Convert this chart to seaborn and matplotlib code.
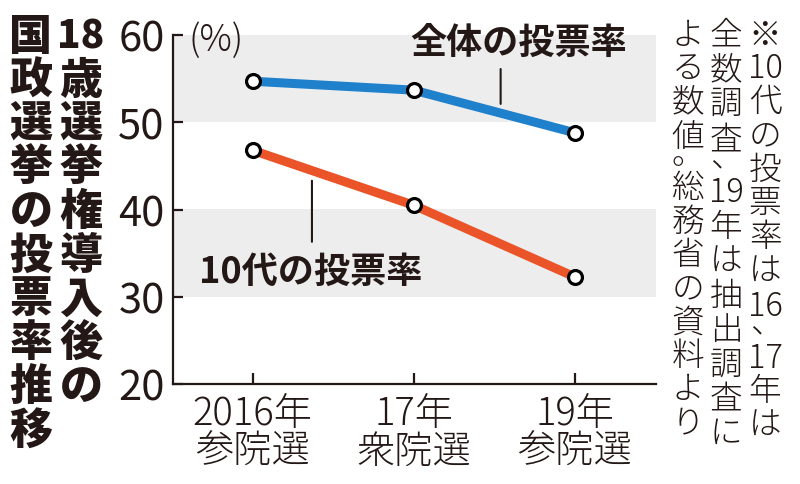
import re
import matplotlib
matplotlib.use("Agg")
import matplotlib.pyplot as plt
import seaborn as sns
import pandas as pd

# ---- data ----
elections = ["2016年\n参院選", "17年\n衆院選", "19年\n参院選"]
overall_rate = [54.70, 53.68, 48.80]
teen_rate = [46.78, 40.49, 32.28]
series_names = ["全体の投票率", "10代の投票率"]
y_ticks = [20, 30, 40, 50, 60]
band_ranges = [(50, 60), (30, 40)]
unit_label = "(%)"
title_cols = ["18歳選挙権導入後の", "国政選挙の投票率推移"]
note_cols = ["※10代の投票率は16、17年は", "全数調査、19年は抽出調査に", "よる数値。総務省の資料より"]

# ---- style ----
sns.set_theme(style="white")
plt.rcParams["font.family"] = ["Noto Sans CJK JP", "DejaVu Sans"]
INK = "#231815"
BLUE = "#1f80cc"
ORANGE = "#ea5428"
BAND = "#ededed"

W, H = 800, 485
fig = plt.figure(figsize=(W / 100, H / 100), dpi=100)
fig.patch.set_facecolor("white")


def fx(x):
    return x / W


def fy(y):
    return 1 - y / H


ax = fig.add_axes([fx(173), fy(385), (656 - 173) / W, (385 - 36) / H])
ax.set_facecolor("white")

df = pd.DataFrame({
    "x": list(range(len(elections))) * 2,
    "rate": overall_rate + teen_rate,
    "series": [series_names[0]] * len(elections) + [series_names[1]] * len(elections),
})

for lo, hi in band_ranges:
    ax.axhspan(lo, hi, color=BAND, lw=0, zorder=0)

sns.lineplot(data=df, x="x", y="rate", hue="series",
             palette={series_names[0]: BLUE, series_names[1]: ORANGE},
             linewidth=6.5, marker="o", markersize=10,
             markerfacecolor="white", markeredgecolor="black",
             markeredgewidth=2.3, legend=False, ax=ax, zorder=3)
for ln in ax.lines:
    ln.set_markerfacecolor("white")
    ln.set_markeredgecolor("black")
    ln.set_solid_capstyle("butt")

ax.set_xlim(-0.495, 2.505)
ax.set_ylim(y_ticks[0], y_ticks[-1])
ax.set_xlabel("")
ax.set_ylabel("")
ax.set_yticks(y_ticks)
ax.set_xticks(range(len(elections)), labels=elections)

for s in ["top", "right"]:
    ax.spines[s].set_visible(False)
for s in ["left", "bottom"]:
    ax.spines[s].set_visible(True)
    ax.spines[s].set_color(INK)
    ax.spines[s].set_linewidth(1.6)

ax.tick_params(axis="y", direction="in", length=7.5, width=1.6, color=INK,
               pad=6, labelsize=30, labelcolor=INK, left=True)
ax.tick_params(axis="x", direction="in", length=8, width=1.6, color=INK,
               pad=7, labelsize=27.5, labelcolor=INK, bottom=True)
for lbl in ax.get_yticklabels():
    lbl.set_fontweight("normal")
for lbl in ax.get_xticklabels():
    lbl.set_fontweight("light")
    lbl.set_linespacing(0.95)

# unit label
fig.text(fx(188), fy(41), unit_label, fontsize=26, color=INK, fontweight="light",
         ha="left", va="center")

# series labels and leaders
ax.text(1.654, 59.2, series_names[0], fontsize=26, fontweight="bold", color=INK,
        ha="center", va="center", zorder=4)
ax.text(0.362, 32.95, series_names[1], fontsize=26, fontweight="bold", color=INK,
        ha="center", va="center", zorder=4)
ax.annotate("", xy=(1.54, 52.1), xytext=(1.54, 56.1),
            arrowprops=dict(arrowstyle="-", lw=1.5, color=INK, shrinkA=0, shrinkB=0))
ax.annotate("", xy=(0.368, 36.3), xytext=(0.368, 43.3),
            arrowprops=dict(arrowstyle="-", lw=1.5, color=INK, shrinkA=0, shrinkB=0))


# ---- vertical text helper (one glyph / digit group per cell) ----
def vertical(text, x, y0, step, size, weight, digit_size=None):
    tokens = re.findall(r"\d+|.", text)
    y = y0
    i = 0
    while i < len(tokens):
        tok = tokens[i]
        sz = digit_size if (tok.isdigit() and digit_size) else size
        em = sz * 100 / 72
        nxt = tokens[i + 1] if i + 1 < len(tokens) else None
        if nxt is not None and nxt in "、。":
            # punctuation shares the text object of the preceding glyph,
            # set in the upper right of a half cell below it
            # (va='baseline' aligns the last line: the punctuation)
            fig.text(fx(x), fy(y + 0.86 * step), tok + "\n" + nxt, fontsize=sz,
                     fontweight=weight, color=INK, ha="center", va="baseline",
                     multialignment="right", linespacing=0.37)
            y += 1.58 * step
            i += 2
            continue
        fig.text(fx(x), fy(y + 0.30 * em), tok, fontsize=sz, fontweight=weight,
                 color=INK, ha="center", va="baseline")
        y += step
        i += 1


# title (right column first)
vertical(title_cols[0], 81, 37, 43.75, 31, "heavy", digit_size=28)
vertical(title_cols[1], 31, 37, 43.75, 31, "heavy")

# note
vertical(note_cols[0], 765, 35, 33.7, 23.5, "light")
vertical(note_cols[1], 726, 35, 34.4, 23.5, "light")
vertical(note_cols[2], 688, 35, 33.5, 23.5, "light")

fig.savefig("out.png", dpi=100, facecolor="white")
